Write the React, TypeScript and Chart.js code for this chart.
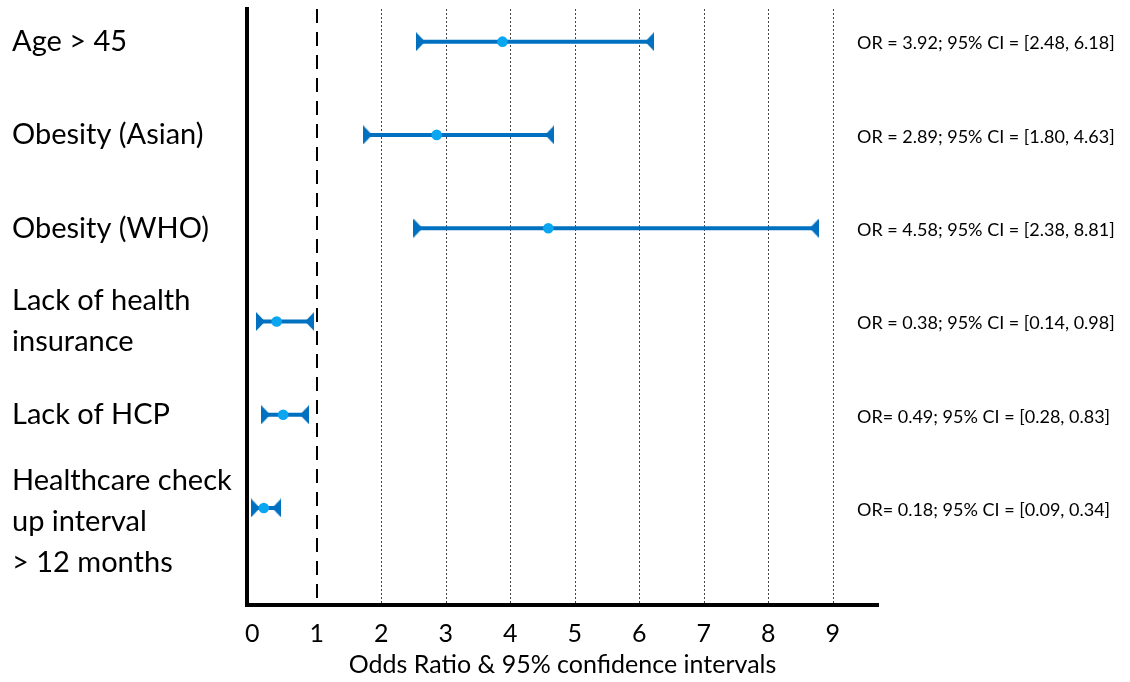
import React, { useEffect, useRef } from "react";
import { Chart, registerables } from "chart.js";

Chart.register(...registerables);

const categories: string[][] = [
  ["Age > 45"],
  ["Obesity (Asian)"],
  ["Obesity (WHO)"],
  ["Lack of health", "insurance"],
  ["Lack of HCP"],
  ["Healthcare check", "up interval", "> 12 months"],
];
const oddsRatio = [3.88, 2.86, 4.59, 0.38, 0.48, 0.18];
const ciLow = [2.61, 1.79, 2.57, 0.13, 0.21, 0.05];
const ciHigh = [6.16, 4.61, 8.71, 0.89, 0.81, 0.38];
const annotations = [
  "OR = 3.92; 95% CI = [2.48, 6.18]",
  "OR = 2.89; 95% CI = [1.80, 4.63]",
  "OR = 4.58; 95% CI = [2.38, 8.81]",
  "OR = 0.38; 95% CI = [0.14, 0.98]",
  "OR= 0.49; 95% CI = [0.28, 0.83]",
  "OR= 0.18; 95% CI = [0.09, 0.34]",
];
const xTicks = [0, 1, 2, 3, 4, 5, 6, 7, 8, 9];
const gridValues = [2, 3, 4, 5, 6, 7, 8, 9];
const referenceValue = 1;
const xTitle = "Odds Ratio & 95% confidence intervals";

const LINE_COLOR = "#0070C0";
const DOT_COLOR = "#0AA6F2";
const FONT = "Lato, 'Liberation Sans', sans-serif";

function makeTriangle(pointRight: boolean): HTMLCanvasElement {
  const c = document.createElement("canvas");
  const w = 9;
  const h = 19;
  c.width = w;
  c.height = h;
  const ctx = c.getContext("2d")!;
  ctx.fillStyle = LINE_COLOR;
  ctx.beginPath();
  if (pointRight) {
    ctx.moveTo(0, 0);
    ctx.lineTo(w, h / 2);
    ctx.lineTo(0, h);
  } else {
    ctx.moveTo(w, 0);
    ctx.lineTo(0, h / 2);
    ctx.lineTo(w, h);
  }
  ctx.closePath();
  ctx.fill();
  return c;
}

const guidesPlugin = {
  id: "guides",
  beforeDatasetsDraw(chart: any) {
    const { ctx, chartArea, scales } = chart;
    const xs = scales.x;
    ctx.save();
    ctx.strokeStyle = "#444";
    ctx.lineWidth = 1;
    ctx.setLineDash([2, 2]);
    for (const v of gridValues) {
      const px = Math.round(xs.getPixelForValue(v)) + 0.5;
      ctx.beginPath();
      ctx.moveTo(px, chartArea.top);
      ctx.lineTo(px, chartArea.bottom);
      ctx.stroke();
    }
    ctx.strokeStyle = "#000";
    ctx.lineWidth = 2;
    ctx.setLineDash([14, 9]);
    const rx = Math.round(xs.getPixelForValue(referenceValue));
    ctx.beginPath();
    ctx.moveTo(rx, chartArea.top);
    ctx.lineTo(rx, chartArea.bottom);
    ctx.stroke();
    ctx.restore();
  },
  afterDraw(chart: any) {
    const { ctx, chartArea, scales } = chart;
    const ys = scales.y;
    ctx.save();
    ctx.fillStyle = "#000";
    ctx.font = "18px " + FONT;
    ctx.textAlign = "left";
    ctx.textBaseline = "middle";
    annotations.forEach((t, i) => {
      ctx.fillText(t, chartArea.right - 21, ys.getPixelForValue(i) + 2);
    });
    ctx.restore();
  },
};

export default function App() {
  const ref = useRef<HTMLCanvasElement | null>(null);
  useEffect(() => {
    if (!ref.current) return;
    const rightTri = makeTriangle(true);
    const leftTri = makeTriangle(false);
    const datasets: any[] = [
      {
        type: "scatter",
        data: oddsRatio.map((v, i) => ({ x: v, y: i })),
        pointRadius: 5.3,
        pointBackgroundColor: DOT_COLOR,
        pointBorderWidth: 0,
        showLine: false,
      },
      ...categories.map((_, i) => ({
        type: "line",
        data: [
          { x: ciLow[i], y: i },
          { x: ciHigh[i], y: i },
        ],
        borderColor: LINE_COLOR,
        borderWidth: 4,
        pointStyle: [rightTri, leftTri],
        pointRadius: 5,
        fill: false,
      })),
    ];
    const chart = new Chart(ref.current, {
      type: "scatter",
      data: { datasets },
      plugins: [guidesPlugin],
      options: {
        animation: false,
        responsive: false,
        maintainAspectRatio: false,
        layout: { padding: { left: 12, top: 8, right: 252, bottom: 0 } },
        plugins: { legend: { display: false }, tooltip: { enabled: false } },
        scales: {
          x: {
            type: "linear",
            min: -0.08,
            max: 9.7,
            afterBuildTicks: (scale: any) => {
              scale.ticks = xTicks.map((v) => ({ value: v }));
            },
            afterFit: (scale: any) => {
              scale.height = 77;
              scale.paddingLeft = 0;
              scale.paddingRight = 0;
            },
            grid: { display: false },
            border: { display: true, width: 4, color: "#000" },
            ticks: {
              color: "#000",
              font: { family: FONT, size: 25 },
              padding: 6,
              autoSkip: false,
              maxRotation: 0,
            },
            title: {
              display: true,
              text: xTitle,
              color: "#000",
              font: { family: FONT, size: 25 },
              padding: { top: 0, bottom: 2 },
            },
          },
          y: {
            type: "linear",
            reverse: true,
            min: -0.35,
            max: 6.04,
            afterBuildTicks: (scale: any) => {
              scale.ticks = categories.map((_, i) => ({ value: i === 5 ? 5.15 : i }));
            },
            afterFit: (scale: any) => {
              scale.width = 235;
              scale.paddingTop = 0;
              scale.paddingBottom = 0;
            },
            grid: { display: false },
            border: { display: true, width: 4, color: "#000" },
            ticks: {
              color: "#000",
              font: { family: FONT, size: 29, lineHeight: 1.41 },
              crossAlign: "far",
              autoSkip: false,
              callback: (_v: any, index: number) => categories[index],
            },
          },
        },
      } as any,
    });
    return () => chart.destroy();
  }, []);
  return (
    <div style={{ position: "absolute", left: 0, top: 0, width: 1130, height: 682, background: "#fff" }}>
      <canvas ref={ref} width={1130} height={682} style={{ width: 1130, height: 682 }} />
    </div>
  );
}
